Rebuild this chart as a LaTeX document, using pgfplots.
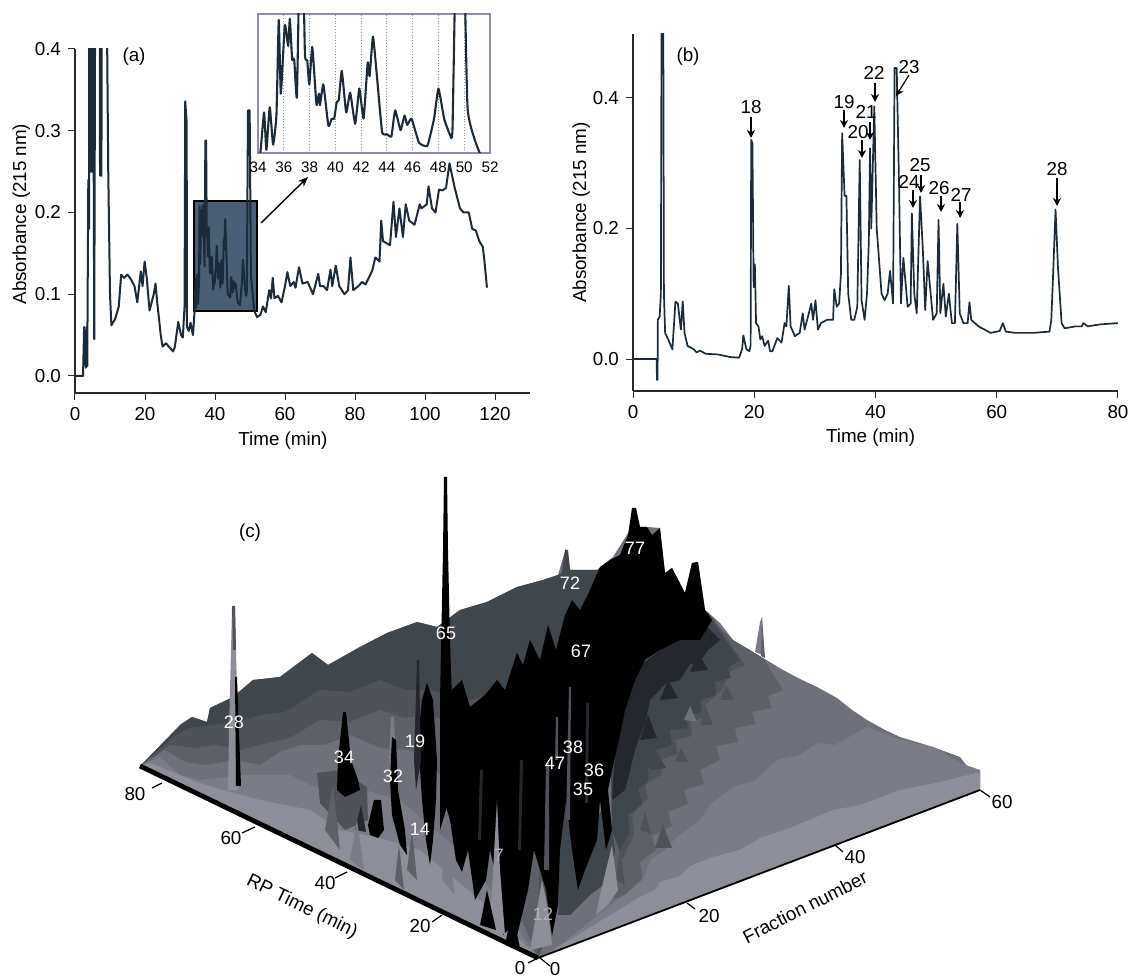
\documentclass[border=0pt]{standalone}
\usepackage{pgfplots}
\usepackage{pgfplotstable}
\usepackage{fontspec}
\setmainfont{Liberation Sans}
\pgfplotsset{compat=1.18}
\usetikzlibrary{arrows.meta}
\definecolor{trace}{HTML}{1C2B3A}
\definecolor{boxfill}{HTML}{4A5F73}
\definecolor{axgray}{HTML}{2A2A2A}
\definecolor{inframe}{HTML}{8C8CA8}
\definecolor{lt}{HTML}{8D8E98}
\definecolor{lm}{HTML}{7B7C86}
\definecolor{md}{HTML}{6F7079}
\definecolor{dk}{HTML}{5E6067}
\definecolor{dd}{HTML}{4F5359}
\definecolor{de}{HTML}{3F464C}
\definecolor{dx}{HTML}{24272B}
\newcommand{\poly}[2]{\addplot[fill=#1,draw=none,forget plot] coordinates {#2} -- cycle;}
\newcommand{\seg}[1]{\addplot[black,line width=0.6pt,forget plot] coordinates {#1};}
\newcommand{\arw}[1]{\addplot[black,line width=0.6pt,-{Stealth[length=4pt,width=4pt]},forget plot] coordinates {#1};}
\tikzset{
 tx/.style={font=\fontsize{9.4}{11}\selectfont,inner sep=0pt},
 wt/.style={font=\fontsize{9}{10}\selectfont,inner sep=0pt,text=white}
}
\pgfplotsset{
 pxaxis/.style={at={(0,0)},anchor=south west,scale only axis,width=565.5pt,height=488.5pt,
   xmin=0,xmax=1131,ymin=0,ymax=977,y dir=reverse,hide axis,clip=false},
 chrom/.style={anchor=south west,scale only axis,axis x line=bottom,axis y line=left,
   axis line style={-,axgray,line width=0.55pt},tick style={axgray,line width=0.5pt},
   tick align=outside,major tick length=3.5pt,
   ticklabel style={font=\fontsize{9.4}{11}\selectfont},
   /pgf/number format/assume math mode=true,
   label style={font=\fontsize{9.4}{11}\selectfont},
   yticklabel style={/pgf/number format/fixed,/pgf/number format/fixed zerofill,/pgf/number format/precision=1},
   scaled y ticks=false}
}
\pgfplotstableread{
t a
0 0
2.3 0
2.6 .06
3.1 .01
3.3 .06
3.5 .012
3.8 .24
4 .18
4.05 .45
4.15 .25
4.25 .45
4.35 .25
4.45 .45
4.55 .25
4.65 .45
4.75 .25
4.85 .45
4.95 .25
5.05 .45
5.2 .45
5.5 .045
5.75 .45
7.05 .45
7.15 .245
7.25 .45
7.35 .245
7.45 .45
7.55 .245
7.65 .45
7.7 .45
8.9 .45
9.2 .4
9.5 .25
10 .1
10.4 .062
11.5 .07
12.5 .085
13.2 .124
14 .12
15 .124
16 .118
17 .11
17.8 .09
18.8 .128
19.3 .11
19.9 .14
20.5 .12
21.3 .08
22.5 .1
23 .113
23.5 .09
24.5 .05
25 .036
26 .04
27 .035
28 .03
28.5 .035
29.5 .066
30.3 .05
30.8 .047
31.3 .085
31.5 .336
31.9 .31
32 .06
32.5 .055
33 .065
33.7 .05
34.18 .080
34.47 .119
34.65 .083
34.91 .124
35.17 .088
35.43 .116
35.61 .208
35.77 .137
36.08 .203
36.34 .183
36.47 .209
36.65 .170
36.81 .170
37.02 .134
37.25 .288
37.46 .288
37.64 .175
37.82 .169
37.98 .146
38.21 .182
38.47 .137
38.55 .126
38.73 .137
38.81 .126
39.07 .146
39.46 .106
39.72 .113
39.91 .113
40.11 .129
40.27 .131
40.50 .159
40.84 .119
41.15 .138
41.54 .108
41.86 .142
42.19 .113
42.51 .167
42.66 .154
42.92 .192
43.24 .152
43.63 .100
44.02 .098
44.35 .096
44.64 .121
45.06 .102
45.37 .116
45.58 .107
45.91 .113
46.49 .090
47.14 .087
47.66 .113
48.0 .142
48.44 .113
48.88 .098
49.09 .103
49.43 .325
49.9 .325
50.26 .123
51.2 .080
52 .072
53 .075
53.7 .085
54.5 .078
55.5 .105
56 .095
56.5 .12
57 .095
58 .098
59 .09
60 .11
60.7 .127
61.5 .11
62.5 .115
63 .108
64 .133
65 .113
66.5 .115
68 .1
69.5 .125
70 .11
71 .11
72 .105
73 .13
73.5 .11
74.5 .135
75.5 .11
77 .1
78 .105
78.7 .145
79.5 .105
81 .11
82 .115
83 .112
84.5 .125
85 .13
85.8 .145
87 .14
87.5 .19
88 .165
90 .16
91 .213
91.7 .17
92.7 .205
93.7 .17
94.5 .21
95.5 .19
97 .185
98.5 .21
99 .205
100.5 .21
101 .232
102 .205
103 .2
104 .228
105 .227
106 .23
107 .26
107.5 .25
108.5 .23
110 .205
111 .2
112.5 .2
113.5 .18
114.5 .178
115.5 .165
116.5 .158
117 .14
117.7 .108
}\dataA
\pgfplotstableread{
t a
0 0
3.9 0
3.95 -.032
4.05 -.032
4.1 .06
4.4 .065
4.6 .1
4.7 .5
5 .5
5.1 .1
5.3 .04
5.8 .03
6.5 .015
7 .088
7.4 .085
7.9 .045
8.2 .088
8.5 .04
9 .02
10 .015
10.5 .01
11 .013
12 .008
14 .007
16 .003
17.5 .002
18 .015
18.2 .036
18.7 .015
19.2 .012
19.4 .02
19.5 .336
19.7 .33
19.9 .11
20.1 .145
20.3 .055
20.7 .05
21 .03
21.3 .035
21.7 .02
22.3 .028
22.6 .012
23 .012
23.8 .032
24.5 .025
25 .055
25.3 .05
25.7 .112
26 .05
26.7 .035
27.5 .04
28 .07
28.3 .045
29 .07
29.4 .085
29.7 .06
30.1 .09
30.5 .045
31 .055
32 .06
33 .06
33.2 .107
33.6 .08
34 .085
34.3 .13
34.5 .346
34.9 .25
35.2 .25
35.5 .1
36 .06
36.5 .06
37 .08
37.4 .305
37.7 .09
38.2 .06
38.6 .1
38.9 .18
39.1 .323
39.3 .2
39.8 .387
40.2 .2
40.6 .15
41 .1
41.5 .09
42 .1
42.4 .135
42.9 .085
43.15 .446
43.5 .446
43.9 .26
44.2 .085
44.6 .155
45.3 .08
45.8 .085
46 .223
46.4 .1
46.8 .07
47.35 .249
47.8 .17
48.2 .075
48.6 .15
49.5 .06
50.1 .07
50.4 .213
50.7 .07
51.2 .115
51.6 .065
52.1 .1
52.6 .055
53.1 .055
53.5 .207
53.9 .07
54.5 .055
55.2 .055
55.5 .087
55.8 .06
57 .05
59 .04
60 .042
60.5 .043
61 .055
61.5 .042
63 .04
66 .04
68.7 .042
69 .06
69.3 .13
69.7 .229
70.1 .14
70.7 .055
71.2 .047
73 .05
74 .05
74.3 .055
75 .05
77 .053
80 .055
}\dataB
\begin{document}
\begin{tikzpicture}
\useasboundingbox (0,0) rectangle (565.5pt,488.5pt);
% ---------- panel (c), drawn in the picture's own pixel coordinates
\begin{axis}[pxaxis]
% whole surface
\poly{md}{(140,766) (143,763) (163,753) (170,743) (180,725) (192,717) (207,722) (210,708) (233,697) (253,680) (280,677) (312,653) (328,665) (360,647) (387,633) (417,622) (437,627) (460,610) (487,602) (517,587) (543,580) (558,575) (566,548) (570,570) (597,570) (613,557) (630,530) (635,508) (640,527) (647,527) (660,528) (665,573) (672,568) (685,593) (692,563) (698,562) (705,610) (720,623) (733,640) (753,652) (763,658) (773,664) (783,670) (800,679) (817,687) (837,698) (852,710) (867,720) (885,730) (900,737) (933,747) (960,757) (970,770) (980,770) (980,790) (538,958)}
% right bands
\poly{lm}{(643,880) (650,860) (665,850) (677,837) (700,820) (710,805) (733,787) (755,780) (777,760) (800,755) (817,743) (835,745) (867,727) (900,740) (933,747) (960,763) (980,770) (980,790) (550,953)}
\poly{lt}{(640,897) (655,890) (660,882) (680,876) (690,866) (713,857) (740,850) (760,838) (790,828) (833,810) (860,805) (900,790) (940,782) (980,772) (980,790) (545,955)}
% left bands (back to front)
\poly{de}{(180,725) (192,717) (207,722) (210,708) (233,697) (253,680) (280,677) (312,653) (328,665) (360,647) (387,633) (417,622) (437,627) (460,610) (487,602) (517,587) (543,580) (558,575) (570,570) (610,570) (640,640) (560,900) (538,958) (140,766)}
\poly{dd}{(176,735) (190,728) (215,725) (240,722) (260,715) (285,712) (320,690) (350,692) (380,680) (405,690) (430,690) (470,700) (540,680) (560,900) (538,958) (140,766)}
\poly{dk}{(170,745) (195,748) (215,745) (240,750) (260,745) (290,738) (320,720) (350,722) (380,710) (405,718) (430,715) (470,730) (540,800) (538,958) (140,766)}
\poly{md}{(165,750) (185,762) (205,765) (235,760) (260,765) (280,752) (300,745) (325,745) (350,735) (380,748) (410,750) (470,800) (538,958) (140,766)}
\poly{lm}{(160,757) (180,775) (200,780) (245,775) (290,775) (310,785) (330,790) (365,790) (400,800) (470,860) (538,958) (140,766)}
\poly{lt}{(150,763) (205,785) (260,800) (310,810) (340,830) (380,838) (420,850) (480,900) (538,958) (140,766)}
% dark shoulders right of the central mass
\poly{dk}{(712,620) (733,640) (753,652) (763,658) (783,690) (768,696) (772,708) (752,712) (756,724) (735,728) (738,742) (716,746) (720,760) (700,770) (704,784) (684,790) (688,804) (668,812) (672,826) (652,836) (656,850) (640,862) (642,878) (625,895) (610,900) (605,850)}
\poly{dd}{(708,612) (728,640) (745,665) (730,672) (722,690) (705,705) (709,716) (690,722) (692,736) (675,740) (678,754) (660,760) (662,774) (645,785) (648,798) (632,815) (634,835) (622,860) (612,830) (610,700)}
\poly{de}{(705,610) (725,640) (740,660) (728,668) (731,678) (715,682) (716,695) (700,700) (702,712) (686,716) (688,728) (670,730) (672,745) (656,750) (660,762) (648,768) (648,782) (636,790) (640,805) (628,815) (630,832) (620,850) (612,830) (610,700)}
\poly{dx}{(700,620) (720,640) (708,650) (700,662) (690,664) (680,680) (665,684) (650,700) (646,720) (635,750) (630,770) (625,790) (612,800) (620,680)}
\poly{de}{(560,880) (608,800) (615,850) (610,880) (590,895) (570,915) (558,915)}
\poly{dd}{(317,773) (340,770) (367,787) (368,820) (345,830) (320,803)}
% small ridges on the right
\poly{dd}{(655,848) (663,825) (672,848)}
\poly{dd}{(700,725) (706,708) (713,725)}
\poly{dk}{(735,720) (741,705) (752,722)}
\poly{dx}{(690,672) (698,652) (708,670)}
\poly{dx}{(660,700) (668,680) (678,698)}
\poly{dx}{(640,740) (648,715) (657,738)}
\poly{de}{(650,770) (657,752) (666,768)}
\poly{de}{(628,800) (635,775) (642,805)}
\poly{dd}{(720,700) (726,685) (734,700)}
\poly{dd}{(675,762) (681,748) (688,762)}
\poly{dd}{(640,830) (645,812) (651,834)}
\poly{md}{(684,720) (690,706) (697,722)}
\poly{dd}{(616,880) (620,850) (625,885)}
\poly{lm}{(755,652) (760,622) (762,617) (763,655)}
\poly{dk}{(762,617) (765,658) (761,656)}
\poly{de}{(561,578) (565,550) (568,550) (571,578)}
% central black mass
\poly{black}{(452,690) (462,680) (470,707) (485,695) (497,680) (505,690) (517,653) (523,665) (530,640) (540,660) (548,625) (556,650) (565,615) (572,600) (580,610) (590,590) (600,567) (610,560) (620,555) (628,535) (632,508) (636,508) (640,527) (647,527) (652,535) (660,528) (665,573) (672,568) (685,593) (692,563) (698,562) (705,610) (712,620) (700,640) (680,640) (660,650) (645,660) (635,680) (625,710) (620,735) (612,770) (608,790) (612,830) (606,850) (600,800) (597,840) (585,870) (578,890) (572,850) (566,800) (560,850) (558,905) (552,936) (546,890) (534,850) (528,890) (516,940) (508,930) (503,935) (497,880) (490,850) (486,880) (475,900) (468,850) (462,872) (456,860) (450,820) (444,800)}
% grey streaks in the black
\poly{dd}{(569,687) (571,687) (570,820) (566,820)}
\poly{dd}{(556,717) (558,717) (558,760) (555,760)}
\poly{dd}{(546,763) (549,763) (549,870) (544,870)}
\poly{dx}{(586,703) (589,703) (588,803) (585,803)}
\poly{dx}{(520,760) (523,760) (521,850) (518,850)}
\poly{dx}{(480,770) (483,770) (481,840) (478,840)}
% separate peaks
\poly{black}{(444,477) (447,477) (448,550) (450,640) (452,700) (452,790) (440,830) (440,700) (442,600) (443,550)}
\poly{black}{(427,683) (433,700) (437,760) (436,800) (433,840) (430,865) (426,840) (422,800) (418,740) (422,700)}
\poly{dx}{(417,660) (419,660) (421,760) (416,790) (414,760)}
\poly{lm}{(391,717) (394,717) (396,760) (392,800) (389,760)}
\poly{black}{(392,737) (396,740) (398,790) (405,830) (407,855) (400,845) (392,815) (390,780)}
\poly{black}{(343,712) (346,712) (351,760) (358,780) (360,790) (345,797) (337,790) (338,760)}
\poly{black}{(368,825) (374,800) (381,800) (384,830) (378,838) (370,835)}
\poly{dx}{(355,830) (361,805) (366,832)}
\poly{dd}{(330,830) (333,770) (338,835)}
\poly{dk}{(325,830) (333,785) (340,850)}
\poly{dk}{(407,870) (412,830) (417,880)}
\poly{lm}{(350,860) (357,820) (364,870)}
\poly{dk}{(395,880) (399,845) (404,890)}
\poly{lm}{(442,880) (446,835) (455,895)}
\poly{lt}{(228,790) (229,730) (231,650) (232,608) (235,608) (236,650) (238,730) (238,790)}
\poly{black}{(235,677) (237,677) (241,786) (236,786)}
\poly{dd}{(232,606) (235,606) (236,650) (233,650)}
% light fingers between the dark peaks
\poly{lt}{(497,800) (500,870) (505,935) (490,925)}
\poly{lt}{(542,880) (548,910) (552,945) (530,950)}
\poly{lt}{(612,845) (618,890) (608,905) (596,915) (600,895)}
% dark tips close to the base
\poly{black}{(505,945) (512,910) (520,948)}
\poly{black}{(480,925) (487,890) (496,930)}
% base edges
\addplot[black,line width=2.4pt,forget plot] coordinates {(140,766) (538,958)};
\addplot[black,line width=0.9pt,forget plot] coordinates {(538,958) (980,790)};
\seg{(152,788) (162,783)}
\seg{(242,833) (255,827)}
\seg{(335,878) (347,872)}
\seg{(432,922) (442,915)}
\seg{(528,963) (538,958)}
\seg{(540,958) (550,966)}
\seg{(687,903) (695,909)}
\seg{(835,845) (843,852)}
\seg{(980,790) (990,797)}
\node[tx] at (135,794) {80};
\node[tx] at (231,838) {60};
\node[tx] at (325,883) {40};
\node[tx] at (420,926) {20};
\node[tx] at (520,968) {0};
\node[tx] at (555,969) {0};
\node[tx] at (709,916) {20};
\node[tx] at (855,857) {40};
\node[tx] at (1002,802) {60};
\node[tx,rotate=-26] at (302,907) {RP Time (min)};
\node[tx,rotate=27] at (805,907) {Fraction number};
\node[tx] at (250,533) {(c)};
\node[wt] at (234,722) {28};
\node[wt] at (344,757) {34};
\node[wt] at (393,776) {32};
\node[wt] at (415,741) {19};
\node[wt] at (420,829) {14};
\node[wt] at (446,633) {65};
\node[wt] at (555,763) {47};
\node[wt] at (573,747) {38};
\node[wt] at (594,770) {36};
\node[wt] at (583,789) {35};
\node[wt] at (581,651) {67};
\node[wt] at (570,583) {72};
\node[wt] at (635,548) {77};
\node[wt,text=lt!70!white] at (543,914) {12};
\node[wt,text=lt!70!white] at (499,855) {7};
\end{axis}
% ---------- panel (a)
\begin{axis}[chrom,at={(37.5pt,292pt)},width=227.5pt,height=172pt,
  xmin=0,xmax=130,ymin=-0.0208,ymax=0.4,
  xtick={0,20,...,120},ytick={0,0.1,0.2,0.3,0.4},
  xlabel={Time (min)},ylabel={Absorbance (215 nm)},
  xlabel style={at={(axis description cs:0.457,0)},anchor=north,yshift=-16pt},
  ylabel style={at={(axis description cs:0,0.52)},anchor=south,yshift=19pt}]
\addplot[fill=boxfill,draw=black,line width=0.9pt,forget plot] coordinates {(34,0.0795) (52,0.0795) (52,0.214) (34,0.214)} -- cycle;
\addplot[trace,line width=1pt,line join=round] table[x=t,y=a] {\dataA};
\end{axis}
% ---------- inset
\begin{axis}[anchor=south west,scale only axis,at={(129pt,412pt)},width=116pt,height=69.5pt,
  xmin=34,xmax=52,ymin=0.08,ymax=0.2137,
  xtick={34,36,...,52},ytick=\empty,axis line style={inframe,line width=0.9pt},
  x tick style={draw=none},major tick length=0pt,
  xticklabel style={font=\fontsize{7.6}{9}\selectfont,yshift=-1pt},
  /pgf/number format/assume math mode=true,
  xmajorgrids,grid style={densely dotted,gray!80,line width=0.6pt}]
\addplot[trace,line width=1.05pt,smooth,tension=0.25,line join=round] table[x=t,y=a] {\dataA};
\end{axis}
% ---------- panel (b)
\begin{axis}[chrom,at={(316.5pt,293pt)},width=242.5pt,height=178.5pt,
  xmin=0,xmax=80,ymin=-0.049,ymax=0.498,
  xtick={0,20,...,80},ytick={0,0.2,0.4},
  xlabel={Time (min)},ylabel={Absorbance (215 nm)},
  xlabel style={at={(axis description cs:0.49,0)},anchor=north,yshift=-15.5pt},
  ylabel style={at={(axis description cs:0,0.5)},anchor=south,yshift=18pt}]
\addplot[trace,line width=0.85pt,line join=round] table[x=t,y=a] {\dataB};
\end{axis}
% ---------- annotations on top
\begin{axis}[pxaxis]
\node[tx] at (134,57) {(a)};
\node[tx] at (688,57) {(b)};
\addplot[black,line width=0.7pt,-{Stealth[length=5pt,width=4pt]},forget plot] coordinates {(261,223) (308,177)};
\arw{(751,117) (751,138)}
\arw{(844,110) (844,128)}
\arw{(862,140) (862,158)}
\arw{(870,122) (870,140)}
\arw{(875,83) (875,102)}
\arw{(909,75) (896,96)}
\arw{(913,190) (913,208)}
\arw{(921,175) (921,193)}
\arw{(941,196) (941,212)}
\arw{(960,202) (960,218)}
\arw{(1057,178) (1057,206)}
\node[tx] at (751,107) {18};
\node[tx] at (844,102) {19};
\node[tx] at (858,132) {20};
\node[tx] at (866,112) {21};
\node[tx] at (874,73) {22};
\node[tx] at (909,67) {23};
\node[tx] at (909,182) {24};
\node[tx] at (920,165) {25};
\node[tx] at (939,188) {26};
\node[tx] at (961,195) {27};
\node[tx] at (1057,169) {28};
\end{axis}
\end{tikzpicture}
\end{document}
